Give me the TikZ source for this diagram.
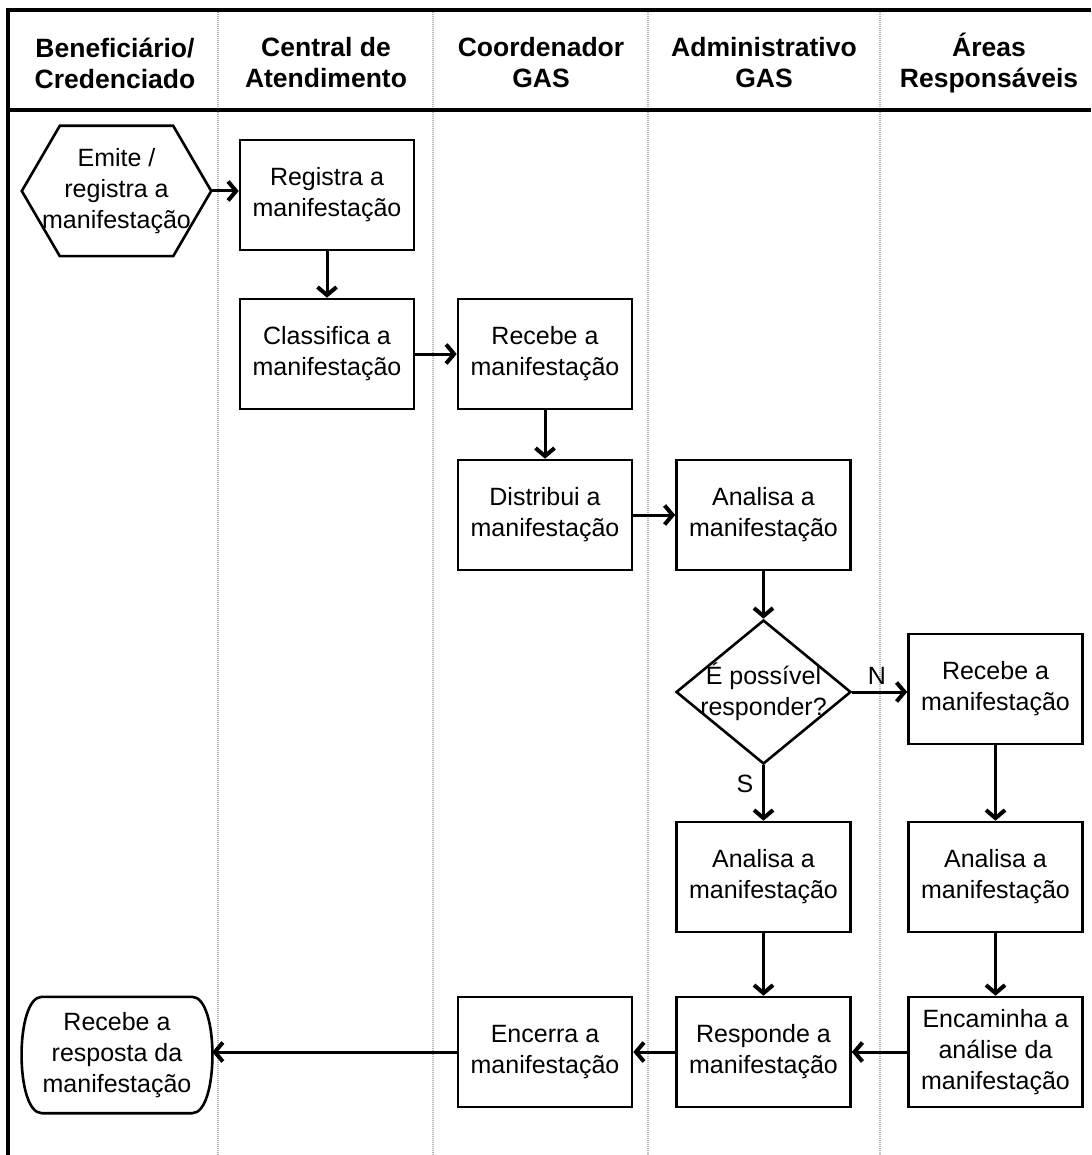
\documentclass[tikz,border=0pt]{standalone}
\usepackage{fontspec}
\setmainfont{Liberation Sans}
\usetikzlibrary{arrows.meta,calc,shapes.geometric}
\begin{document}
\begin{tikzpicture}[x=1pt,y=-1pt,
  box/.style={draw, line width=2.6pt, minimum width=174pt, minimum height=110pt, align=center, inner sep=0pt, font=\fontsize{25}{31}\selectfont},
  txt/.style={align=center, inner sep=0pt, font=\fontsize{25}{31}\selectfont},
  hdr/.style={align=center, inner sep=0pt, font=\bfseries\fontsize{26.5}{31}\selectfont},
  arr/.style={line width=3pt, -{Straight Barb[length=8pt,width=19pt,line width=4pt]}},
  lane/.style={draw=gray!60, line width=1.6pt, dash pattern=on 1.2pt off 0.8pt},
  frame/.style={line width=3.5pt},
  outline/.style={line width=2.6pt}]
\useasboundingbox (0,0) rectangle (1091,1155);
\fill[white] (0,0) rectangle (1091,1155);
% lanes
\draw[lane] (218,10) -- (218,1155);
\draw[lane] (433,10) -- (433,1155);
\draw[lane] (648,10) -- (648,1155);
\draw[lane] (880,10) -- (880,1155);
\draw[frame] (1091,10) -- (8,10) -- (8,1155);
\draw[frame] (8,110) -- (1091,110);
% headers
\node[hdr] (h1) at (115,63) {Beneficiário/\\Credenciado};
\node[hdr] (h2) at (326,63) {Central de\\Atendimento};
\node[hdr] (h3) at (541,63) {Coordenador\\GAS};
\node[hdr] (h4) at (764,63) {Administrativo\\GAS};
\node[hdr] (h5) at (989,63) {Áreas\\Responsáveis};
% hexagon
\node[txt, minimum width=189pt, minimum height=130pt] (hex) at (116.5,191) {Emite /\\registra a\\manifestação};
\draw[outline] (hex.west) -- ($(hex.north west)+(38,0)$) -- ($(hex.north east)+(-38,0)$) -- (hex.east) -- ($(hex.south east)+(-38,0)$) -- ($(hex.south west)+(38,0)$) -- cycle;
% boxes
\node[box] (reg) at (327,195) {Registra a\\manifestação};
\node[box] (cla) at (327,354) {Classifica a\\manifestação};
\node[box] (rec1) at (545,354) {Recebe a\\manifestação};
\node[box] (dis) at (545,515) {Distribui a\\manifestação};
\node[box] (ana1) at (763.5,515) {Analisa a\\manifestação};
\node[diamond, draw, line width=2.6pt, minimum width=175pt, minimum height=144pt, inner sep=0pt] (dec) at (763.5,692) {};
\node[txt] (dect) at (dec.center) {É possível\\responder?};
\node[box] (rec2) at (995.5,689) {Recebe a\\manifestação};
\node[box] (ana2) at (763.5,877) {Analisa a\\manifestação};
\node[box] (ana3) at (995.5,877) {Analisa a\\manifestação};
\node[box] (resp) at (763.5,1052) {Responde a\\manifestação};
\node[box] (enc) at (995.5,1052) {Encaminha a\\análise da\\manifestação};
\node[box] (encr) at (545,1052) {Encerra a\\manifestação};
% terminal
\node[txt, minimum width=150pt, minimum height=116pt] (term) at (117,1055) {Recebe a\\resposta da\\manifestação};
\coordinate (tNW) at (term.north west);
\coordinate (tNE) at (term.north east);
\coordinate (tSE) at (term.south east);
\coordinate (tSW) at (term.south west);
\draw[outline] (tNW) -- (tNE) .. controls +(27,0) and +(27,0) .. (tSE) -- (tSW) .. controls +(-27,0) and +(-27,0) .. (tNW) -- cycle;
\coordinate (termE) at ($(term.east)+(20,0)$);
% labels
\node[txt] (lN) at (877,676) {N};
\node[txt] (lS) at (745,784) {S};
% connectors
\draw[arr] (hex.east) -- (reg.west |- hex.east);
\draw[arr] (reg) -- (cla);
\draw[arr] (cla) -- (rec1);
\draw[arr] (rec1) -- (dis);
\draw[arr] (dis) -- (ana1);
\draw[arr] (ana1) -- (dec);
\draw[arr] (dec.east) -- (dec.east -| rec2.west);
\draw[arr] (dec) -- (ana2);
\draw[arr] (rec2) -- (ana3);
\draw[arr] (ana2) -- (resp);
\draw[arr] (ana3) -- (enc);
\draw[arr] (enc) -- (resp);
\draw[arr] (resp) -- (encr);
\draw[arr] (encr.west) -- (termE |- encr.west);
\end{tikzpicture}
\end{document}
